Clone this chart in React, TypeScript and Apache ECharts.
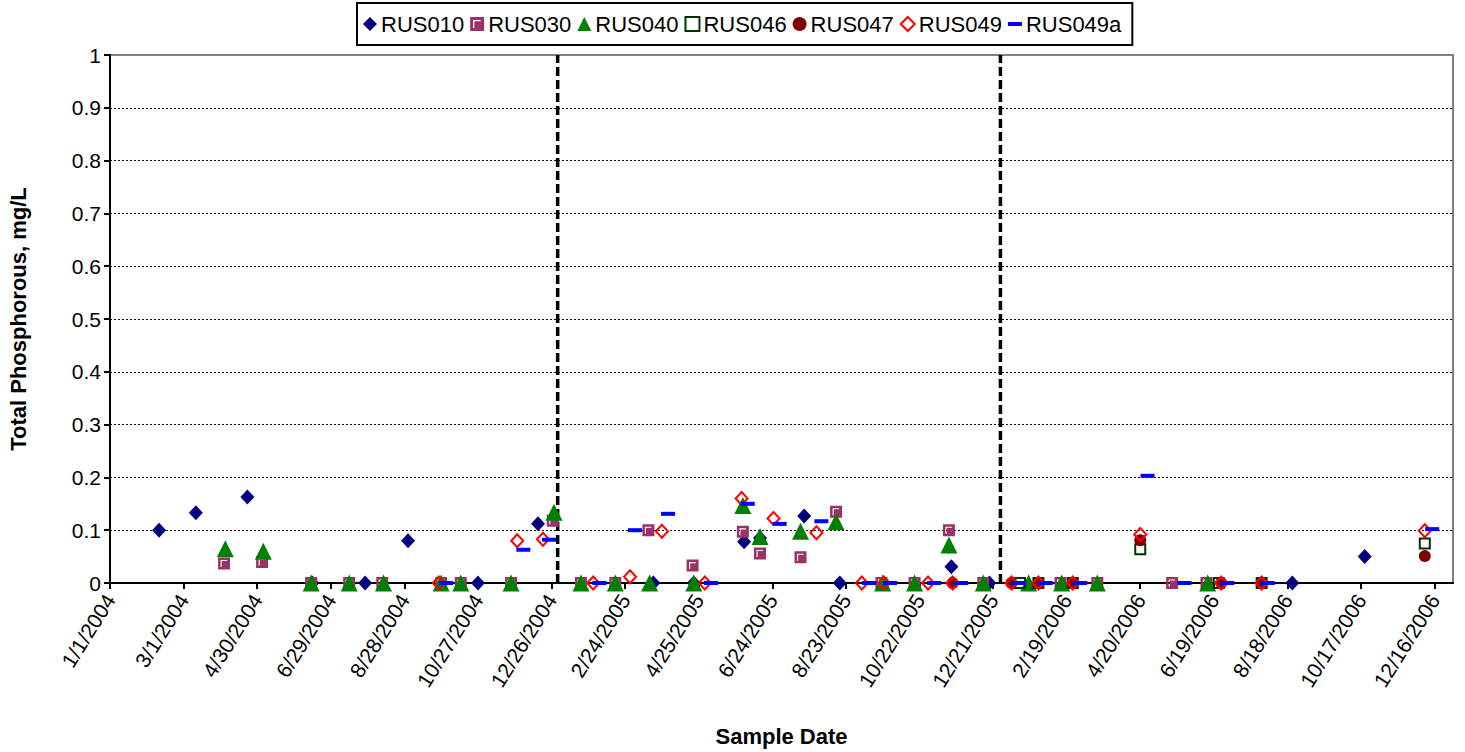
import React, { useEffect, useRef } from "react";
import * as echarts from "echarts";

// ---- axis settings ----
const axisStartDate = "1/1/2004";
const axisEndDate = "12/31/2006";
const xTickStepDays = 60;
const xTickCount = 19;
const yTickLabels = ["0", "0.1", "0.2", "0.3", "0.4", "0.5", "0.6", "0.7", "0.8", "0.9", "1"];

// ---- divider lines (year boundaries) ----
const dividerDates = ["12/31/2004", "12/27/2005"];

// ---- series data: [sample date, total phosphorous mg/L] ----
const RUS010: [string, number][] = [
  ["2/10/2004", 0.1], ["3/11/2004", 0.133], ["4/22/2004", 0.163], ["6/14/2004", 0], ["7/27/2004", 0],
  ["8/31/2004", 0.08], ["10/27/2004", 0], ["12/15/2004", 0.112], ["3/19/2005", 0], ["4/21/2005", 0],
  ["6/1/2005", 0.078], ["6/14/2005", 0.085], ["7/20/2005", 0.127], ["8/18/2005", 0], ["11/17/2005", 0.031],
  ["12/18/2005", 0], ["8/22/2006", 0], ["10/20/2006", 0.05],
];
const RUS030: [string, number][] = [
  ["4/3/2004", 0.037], ["5/4/2004", 0.04], ["6/13/2004", 0], ["7/14/2004", 0], ["8/10/2004", 0],
  ["9/27/2004", 0], ["10/13/2004", 0], ["11/23/2004", 0], ["12/27/2004", 0.118], ["1/19/2005", 0],
  ["2/16/2005", 0], ["3/15/2005", 0.1], ["4/20/2005", 0.033], ["5/31/2005", 0.097], ["6/14/2005", 0.056],
  ["7/17/2005", 0.049], ["8/15/2005", 0.135], ["9/21/2005", 0], ["10/18/2005", 0], ["11/15/2005", 0.1],
  ["12/13/2005", 0], ["2/14/2006", 0], ["3/16/2006", 0], ["5/16/2006", 0], ["6/13/2006", 0],
];
const RUS040: [string, number][] = [
  ["4/4/2004", 0.065], ["5/5/2004", 0.06], ["6/13/2004", 0], ["7/14/2004", 0], ["8/11/2004", 0],
  ["9/27/2004", 0], ["10/13/2004", 0], ["11/23/2004", 0], ["12/28/2004", 0.134], ["1/19/2005", 0],
  ["2/16/2005", 0], ["3/16/2005", 0], ["4/21/2005", 0], ["5/31/2005", 0.147], ["6/14/2005", 0.088],
  ["7/17/2005", 0.098], ["8/15/2005", 0.116], ["9/22/2005", 0], ["10/18/2005", 0], ["11/15/2005", 0.072],
  ["12/13/2005", 0], ["1/19/2006", 0], ["2/15/2006", 0], ["3/16/2006", 0], ["6/14/2006", 0],
];
const RUS046: [string, number][] = [
  ["1/12/2006", 0], ["1/27/2006", 0], ["2/24/2006", 0], ["4/20/2006", 0.064], ["6/23/2006", 0],
  ["7/28/2006", 0], ["12/8/2006", 0.075],
];
const RUS047: [string, number][] = [
  ["11/18/2005", 0], ["1/5/2006", 0], ["1/27/2006", 0], ["2/24/2006", 0], ["4/20/2006", 0.081],
  ["6/25/2006", 0], ["7/28/2006", 0], ["12/8/2006", 0.051],
];
const RUS049: [string, number][] = [
  ["9/25/2004", 0], ["11/28/2004", 0.08], ["12/19/2004", 0.083], ["1/29/2005", 0], ["2/28/2005", 0.012],
  ["3/26/2005", 0.098], ["4/30/2005", 0], ["5/30/2005", 0.16], ["6/25/2005", 0.122], ["7/30/2005", 0.095],
  ["9/5/2005", 0], ["9/23/2005", 0], ["10/29/2005", 0], ["11/18/2005", 0], ["1/5/2006", 0],
  ["1/27/2006", 0], ["2/24/2006", 0], ["4/20/2006", 0.092], ["6/25/2006", 0], ["7/28/2006", 0],
  ["12/8/2006", 0.099],
];
const RUS049a: [string, number][] = [
  ["10/1/2004", 0], ["12/3/2004", 0.063], ["12/24/2004", 0.082], ["2/3/2005", 0], ["3/4/2005", 0.1],
  ["3/31/2005", 0.131], ["5/5/2005", 0], ["6/4/2005", 0.15], ["6/30/2005", 0.112], ["8/3/2005", 0.117],
  ["9/11/2005", 0], ["9/28/2005", 0], ["11/3/2005", 0], ["11/25/2005", 0], ["1/11/2006", 0],
  ["2/2/2006", 0], ["3/2/2006", 0], ["4/26/2006", 0.203], ["5/26/2006", 0], ["6/30/2006", 0],
  ["8/2/2006", 0], ["12/14/2006", 0.102],
];

const DAY = 86400000;
function parseDate(s: string): number {
  const [m, d, y] = s.split("/").map(Number);
  return Date.UTC(y, m - 1, d);
}
const origin = parseDate(axisStartDate);
const toDay = (s: string) => Math.round((parseDate(s) - origin) / DAY);
const fmtDay = (v: number) => {
  const dt = new Date(origin + v * DAY);
  return `${dt.getUTCMonth() + 1}/${dt.getUTCDate()}/${dt.getUTCFullYear()}`;
};
const toPoints = (arr: [string, number][]) => arr.map(([d, v]) => [toDay(d), v]);

const FONT = "'Liberation Sans', Arial, sans-serif";
const squareWithL = "path://M0,0L12,0L12,12L0,12Z M2.5,2.5L2.5,9.5L3.6,9.5L3.6,3.6L9,3.6L9,2.5Z";
const dashPath = "path://M0,0L14,0L14,4L0,4Z";

export default function App() {
  const ref = useRef<HTMLDivElement>(null);
  useEffect(() => {
    document.body.style.margin = "0";
    const chart = echarts.init(ref.current!, null, { renderer: "svg" });
    const xTicks = Array.from({ length: xTickCount }, (_, i) => i * xTickStepDays);
    const seriesDefs = [
      { name: "RUS010", data: RUS010, symbol: "diamond", symbolSize: [14, 15], itemStyle: { color: "#000080", opacity: 1 } },
      { name: "RUS030", data: RUS030, symbol: squareWithL, symbolSize: 12, itemStyle: { color: "#993366", opacity: 1 } },
      { name: "RUS040", data: RUS040, symbol: "triangle", symbolSize: [17, 17], itemStyle: { color: "#008000", opacity: 1 } },
      { name: "RUS046", data: RUS046, symbol: "rect", symbolSize: 10, itemStyle: { color: "rgba(255,255,255,0)", borderColor: "#003300", borderWidth: 2, opacity: 1 } },
      { name: "RUS047", data: RUS047, symbol: "circle", symbolSize: 12, itemStyle: { color: "#800000", opacity: 1 } },
      { name: "RUS049", data: RUS049, symbol: "diamond", symbolSize: [12, 13], itemStyle: { color: "rgba(255,255,255,0)", borderColor: "#FF0000", borderWidth: 2, opacity: 1 } },
      { name: "RUS049a", data: RUS049a, symbol: "rect", symbolSize: [14, 4], itemStyle: { color: "#0000FF", opacity: 1 } },
    ];
    const legendIcons: Record<string, string> = {
      RUS010: "diamond", RUS030: squareWithL, RUS040: "triangle", RUS046: "rect",
      RUS047: "circle", RUS049: "diamond", RUS049a: dashPath,
    };
    const option: any = {
      animation: false,
      backgroundColor: "#fff",
      textStyle: { fontFamily: FONT },
      grid: {
        left: 110, right: 12, top: 55, bottom: 169, outerBoundsMode: "none", containLabel: false,
        show: true, borderColor: "#808080", borderWidth: 2, backgroundColor: "#fff",
      },
      legend: {
        left: 357, top: 3,
        data: seriesDefs.map((s) => ({ name: s.name, icon: legendIcons[s.name] })),
        itemWidth: 14, itemHeight: 14, itemGap: 6,
        padding: [10, 11, 10, 6],
        borderColor: "#000", borderWidth: 2,
        textStyle: { fontFamily: FONT, fontSize: 22, color: "#000", padding: [0, 0, 0, -1] },
      },
      xAxis: {
        type: "value", min: 0, max: toDay(axisEndDate), interval: xTickStepDays,
        name: "Sample Date", nameLocation: "middle", nameGap: 142,
        nameTextStyle: { fontFamily: FONT, fontSize: 22, fontWeight: "bold", color: "#000" },
        axisLine: { show: true, onZero: false, lineStyle: { color: "#000", width: 2 } },
        axisTick: { show: true, length: 6, lineStyle: { color: "#000", width: 2 }, customValues: xTicks },
        axisLabel: {
          customValues: xTicks, rotate: 58, margin: 13, fontFamily: FONT, fontSize: 21, color: "#000",
          formatter: (v: number) => fmtDay(v),
        },
        splitLine: { show: false },
      },
      yAxis: {
        type: "value", min: 0, max: 1, interval: 0.1,
        name: "Total Phosphorous, mg/L", nameLocation: "middle", nameGap: 81,
        nameTextStyle: { fontFamily: FONT, fontSize: 22, fontWeight: "bold", color: "#000" },
        axisLine: { show: true, lineStyle: { color: "#000", width: 2 } },
        axisTick: { show: true, length: 6, lineStyle: { color: "#000", width: 2 } },
        axisLabel: {
          margin: 9, fontFamily: FONT, fontSize: 21, color: "#000",
          formatter: (v: number) => yTickLabels[Math.round(v * 10)] ?? "",
        },
        splitLine: { show: true, showMaxLine: false, showMinLine: false, lineStyle: { color: "#000", width: 1, type: [2, 2] } },
      },
      series: [
        ...dividerDates.map((d, i) => ({
          name: "divider" + i, type: "line", data: [[toDay(d), 0], [toDay(d), 1]],
          symbol: "none", silent: true, z: 1,
          lineStyle: { color: "#000", width: 3.5, type: [9, 4] },
        })),
        ...seriesDefs.map((s, i) => ({
          name: s.name, type: "scatter", data: toPoints(s.data),
          symbol: s.symbol, symbolSize: s.symbolSize, itemStyle: s.itemStyle, z: 2 + i,
        })),
      ],
    };
    chart.setOption(option);
    return () => chart.dispose();
  }, []);
  return <div ref={ref} style={{ position: "fixed", left: 0, top: 0, width: 1465, height: 752 }} />;
}
